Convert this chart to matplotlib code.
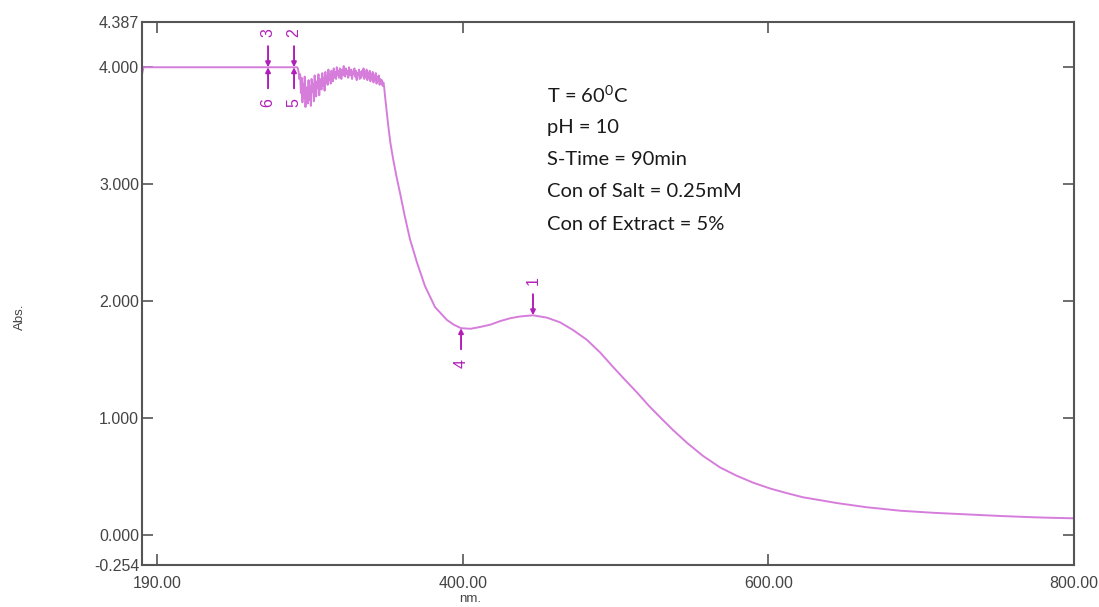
import numpy as np
import matplotlib.pyplot as plt

plt.rcParams['font.family'] = ['Liberation Sans', 'DejaVu Sans']

# flat saturated part
flat_nm = [190, 191, 230, 260, 272.5, 289.5, 291]
flat_abs = [3.94, 4.0, 4.0, 4.0, 4.0, 4.0, 4.0]

# noisy region near detector limit (0.5 nm steps)
noise_nm = list(np.arange(291.5, 349.0, 0.5))
noise_abs = [4.00, 3.99, 3.96, 3.90, 3.94, 3.78, 3.91, 3.70, 3.86, 3.74,
             3.92, 3.66, 3.83, 3.77, 3.69, 3.89, 3.72, 3.84, 3.67, 3.90,
             3.79, 3.86, 3.71, 3.93, 3.80, 3.75, 3.88, 3.82, 3.94, 3.76,
             3.90, 3.85, 3.81, 3.95, 3.84, 3.91, 3.80, 3.96, 3.87, 3.92,
             3.85, 3.98, 3.89, 3.94, 3.86, 3.97, 3.92, 3.88, 3.99, 3.91,
             3.96, 3.90, 4.00, 3.93, 3.97, 3.91, 3.99, 3.94, 3.90, 3.98,
             3.93, 4.01, 3.95, 3.92, 3.99, 3.94, 3.97, 3.91, 4.00, 3.95,
             3.93, 3.98, 3.90, 3.96, 3.94, 3.99, 3.92, 3.97, 3.89, 3.95,
             3.93, 3.98, 3.90, 3.96, 3.91, 3.97, 3.93, 3.99, 3.90, 3.96,
             3.92, 3.98, 3.89, 3.95, 3.91, 3.97, 3.88, 3.94, 3.90, 3.96,
             3.87, 3.93, 3.89, 3.95, 3.86, 3.92, 3.88, 3.93, 3.85, 3.90,
             3.86, 3.89, 3.84, 3.87, 3.83]

# smooth part of the spectrum
smooth_nm = [349.0, 350.0, 351.0, 352.5, 354.3, 356.5, 358.8, 362.1, 365.4,
             370.0, 375.2, 381.8, 389.6, 394.0, 398.8, 405.0, 411.2, 418.0,
             424.3, 431.0, 437.4, 445.9, 455.0, 463.6, 472.0, 481.2, 490.0,
             498.2, 506.0, 514.0, 521.5, 529.0, 537.5, 546.7, 557.0, 568.3,
             579.0, 589.9, 601.0, 612.1, 622.5, 633.7, 645.0, 664.0, 686.1,
             708.0, 729.9, 751.5, 773.1, 786.0, 800.0]
smooth_abs = [3.76, 3.64, 3.52, 3.36, 3.22, 3.07, 2.93, 2.72, 2.53,
              2.33, 2.13, 1.95, 1.84, 1.80, 1.77, 1.765, 1.78, 1.80,
              1.83, 1.855, 1.87, 1.88, 1.86, 1.82, 1.755, 1.67, 1.56,
              1.44, 1.33, 1.22, 1.11, 1.01, 0.90, 0.79, 0.68, 0.58,
              0.51, 0.45, 0.40, 0.36, 0.325, 0.30, 0.275, 0.24, 0.21,
              0.192, 0.178, 0.165, 0.154, 0.149, 0.145]

wl = np.array(flat_nm + noise_nm + smooth_nm)
ab = np.array(flat_abs + noise_abs + smooth_abs)

# peak / valley picks
pick_labels = ['1', '2', '3', '4', '5', '6']
pick_nm = [445.9, 289.5, 272.5, 398.8, 289.5, 272.5]
pick_abs = [1.88, 4.0, 4.0, 1.77, 4.0, 4.0]
pick_peak = [True, True, True, False, False, False]

info = ["T = 60$^{\\mathregular{0}}$C", "pH = 10", "S-Time = 90min",
        "Con of Salt = 0.25mM", "Con of Extract = 5%"]

line_col = '#d67ddc'
mark_col = '#b020b8'
axis_col = '#555555'

fig = plt.figure(figsize=(10.99, 6.07), dpi=100)
ax = fig.add_axes([0.1292, 0.0692, 0.8481, 0.8946])

ax.plot(wl, ab, color=line_col, lw=1.4)

for lab, x, y, peak in zip(pick_labels, pick_nm, pick_abs, pick_peak):
    sgn = 1 if peak else -1
    ax.annotate('', xy=(x, y), xytext=(x, y + sgn * 0.18),
                arrowprops=dict(arrowstyle='-|>', color=mark_col, lw=1.4,
                                mutation_scale=7, shrinkA=0, shrinkB=0))
    ax.text(x, y + sgn * 0.30, lab, color=mark_col, fontsize=11.5, rotation=90,
            ha='center', va='center')

for i, s in enumerate(info):
    ax.text(455, 3.76 - i * 0.275, s, fontsize=14.5, color='#1a1a1a',
            family=['Lato', 'DejaVu Sans'], va='center', ha='left')

ax.set_xlim(190, 800)
ax.set_ylim(-0.254, 4.387)
ax.set_xticks([200, 400, 600, 800])
ax.set_xticklabels(['190.00', '400.00', '600.00', '800.00'])
ax.set_yticks([-0.254, 0, 1, 2, 3, 4, 4.387])
ax.set_yticklabels(['-0.254', '0.000', '1.000', '2.000', '3.000', '4.000', '4.387'])
ax.tick_params(direction='in', top=True, right=True, length=8, width=1.2,
               color=axis_col, labelcolor='#444444', labelsize=11.5)
ax.tick_params(axis='x', pad=8)
ax.tick_params(axis='y', pad=2)
for sp in ax.spines.values():
    sp.set_color(axis_col)
    sp.set_linewidth(1.5)

ax.set_xlabel('nm.', fontsize=9.5, color='#444444')
ax.xaxis.set_label_coords((470 - 142) / 932, -0.052)
fig.text(0.018, 0.478, 'Abs.', rotation=90, fontsize=9.5, color='#444444',
         ha='center', va='center')

fig.savefig('out.png', dpi=100)
